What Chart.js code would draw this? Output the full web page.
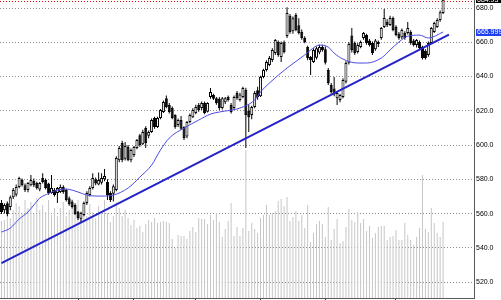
<!DOCTYPE html>
<html>
<head>
<meta charset="utf-8">
<script src="https://cdn.jsdelivr.net/npm/chart.js@4/dist/chart.umd.min.js"></script>
<style>
html,body{margin:0;padding:0;background:#fff;}
canvas{display:block;}
</style>
</head>
<body>
<canvas id="c" width="501" height="300"></canvas>
<script>
// ---- data (daily bars) ----
const barCount = 161; // 151 bars + empty shift area on the right
const categories = Array.from({length: barCount}, (_, i) => 'D' + (i + 1));

const opens = [566.1,562.0,566.0,563.8,569.6,571.0,575.5,579.6,576.6,573.7,576.6,579.0,577.8,574.0,580.7,579.6,577.5,572.0,573.7,572.0,
572.6,575.5,573.7,569.0,567.0,565.0,561.0,557.0,559.1,566.1,570.8,574.9,580.0,577.0,578.0,580.0,578.4,572.0,571.5,573.7,
591.2,601.2,592.0,598.8,591.2,594.2,598.3,605.8,600.5,609.9,605.5,607.6,615.8,610.5,615.8,619.3,627.4,623.4,621.6,617.5,
611.7,614.6,610.5,605.0,613.4,616.3,618.7,623.4,621.6,624.5,619.5,628.0,629.2,627.4,627.0,621.6,625.0,628.0,623.4,621.6,
630.4,626.3,628.0,632.1,620.0,617.5,622.2,632.0,628.5,639.7,643.8,646.7,649.6,653.7,660.2,651.4,660.0,663.7,675.5,666.5,
675.9,670.0,666.0,662.5,657.2,651.4,648.5,651.0,654.0,657.2,656.0,643.8,635.0,633.0,627.4,626.3,628.0,637.0,648.0,664.0,
659.6,654.3,657.2,662.5,664.2,661.0,659.6,656.0,660.2,662.5,669.0,672.0,670.1,674.2,669.0,665.0,663.0,665.4,665.4,666.0,
661.0,658.4,660.2,657.2,655.0,652.6,659.6,666.0,669.0,673.0,677.1];
const highs = [567.9,566.0,567.0,570.5,575.0,577.0,581.5,580.5,577.5,578.5,582.5,580.5,578.6,578.5,583.6,580.5,578.0,582.5,574.9,575.5,
577.0,576.6,574.5,570.0,568.0,566.0,561.5,561.0,567.0,573.0,576.0,583.6,581.0,584.0,583.6,586.0,580.0,573.0,577.0,593.5,
599.5,602.5,601.8,600.0,598.0,599.5,603.5,606.5,609.0,611.0,608.5,615.5,616.5,616.5,621.0,626.0,629.0,624.5,622.5,618.0,
615.5,617.0,611.0,614.0,618.5,621.5,623.5,624.5,625.5,625.5,625.0,633.3,630.0,628.0,628.0,628.0,628.0,629.0,624.5,629.0,
631.5,630.5,634.0,633.5,623.4,623.0,631.5,634.0,640.5,644.5,649.5,652.0,656.5,662.0,661.0,660.5,661.0,680.5,676.5,675.0,
677.1,674.0,667.5,663.5,658.0,652.0,656.5,657.5,658.5,658.5,657.5,645.0,636.2,639.7,631.5,630.0,639.0,649.0,660.0,668.3,
660.5,659.5,661.0,666.0,665.0,662.0,660.5,662.0,661.0,669.0,679.4,673.5,675.5,675.0,670.0,666.0,668.0,666.5,671.8,667.0,
662.0,662.0,661.0,658.0,656.0,660.5,669.0,672.0,674.0,678.5,686.0];
const lows = [559.7,560.0,558.5,562.0,568.5,570.0,574.8,575.8,572.6,572.5,576.0,575.5,574.0,573.0,577.5,574.0,571.0,571.5,570.0,566.1,
572.0,571.5,567.0,564.5,563.0,559.0,556.2,555.0,558.5,565.0,570.0,574.0,576.5,576.5,577.0,578.8,567.9,566.7,567.0,573.0,
590.0,590.0,591.0,590.5,590.0,593.0,597.5,599.0,600.0,598.3,604.0,607.0,609.5,610.0,615.0,618.7,621.5,618.5,615.0,609.5,
610.5,608.8,603.0,604.0,612.8,615.8,618.0,619.5,620.5,618.0,619.0,627.0,626.3,623.5,620.5,620.8,624.0,625.5,618.5,620.8,
626.5,625.5,627.4,598.3,607.6,615.0,621.5,626.5,628.0,639.0,643.0,646.0,648.5,652.6,651.5,648.5,653.5,662.5,665.0,665.0,
666.5,664.5,661.5,659.5,649.5,640.9,647.9,650.0,653.0,654.5,647.0,635.0,630.0,628.5,623.4,625.0,627.4,636.0,647.0,654.0,
652.6,653.5,656.5,661.5,658.5,657.5,652.6,655.0,657.2,661.5,668.3,669.0,669.5,666.5,663.5,661.5,662.0,661.5,664.5,658.5,
657.5,657.0,655.5,650.0,650.0,651.5,659.0,665.4,668.3,672.0,676.5];
const closes = [560.9,565.0,559.8,569.6,573.7,575.5,580.7,576.6,573.7,577.8,579.6,576.5,574.9,577.8,578.4,574.9,572.0,574.9,570.8,574.9,
575.5,572.6,567.9,565.5,563.8,559.7,557.4,560.3,566.1,572.0,574.9,580.7,577.5,579.6,580.7,582.0,570.8,567.9,576.0,592.4,
598.3,591.2,599.5,591.2,597.1,598.8,602.9,600.0,607.6,601.2,607.6,614.6,610.5,615.8,620.4,625.1,622.2,619.3,615.8,610.5,
614.6,609.5,604.1,613.4,617.5,620.4,622.2,620.4,624.5,618.7,624.5,631.0,627.0,624.5,621.6,627.4,627.4,626.3,619.3,628.0,
627.4,629.5,633.3,617.5,616.3,622.2,630.4,628.0,639.7,643.8,648.5,650.8,655.5,661.3,652.6,659.6,654.3,677.1,666.0,674.0,
667.2,665.4,662.5,660.2,650.8,649.6,655.5,656.6,657.2,655.5,648.0,636.2,631.0,629.5,630.4,629.2,638.0,647.9,659.0,655.5,
653.7,658.4,660.2,665.4,659.6,658.4,653.7,661.0,659.0,668.3,674.2,670.0,674.2,667.2,664.2,662.5,667.2,662.5,668.3,659.6,
658.4,661.3,656.6,650.8,650.8,659.6,668.3,671.2,673.0,677.5,684.8];
const volumes = [3850,3900,4200,4000,4400,4750,4600,4250,4900,4500,4800,4200,5000,4400,4650,4300,4900,4150,4500,4100,
4500,4800,4100,4400,4500,4100,4900,4300,4550,4100,4700,4300,4000,4600,4200,4900,4250,3800,4100,4800,
4500,4100,4400,4000,3650,3900,3500,3600,3300,3700,3900,3800,4000,3750,3800,3850,3800,3750,2950,2500,
3150,3100,3100,2950,3350,3550,3300,4000,3950,3950,3700,4150,3900,4250,3800,3050,3450,3850,4750,3100,
3550,3100,3500,7400,3350,3750,3450,3250,4000,4150,4650,4150,4250,4350,4850,4950,4600,5050,3850,4050,
4350,3850,4150,3500,4650,2800,3250,3700,3850,3700,3050,4550,2900,3450,3950,2750,2850,3550,4450,3900,
3800,4300,3750,3950,3350,3600,3000,3250,3550,3600,3600,2900,3050,3100,3400,2900,2900,3750,3150,2900,
2650,3050,3500,6150,3450,3300,4500,3750,3250,3050,3800];
// moving average, read at sample bars
const maBars = [0,3,6,9,11,13,16,19,22,26,29,34,38,43,47,51,54,57,62,67,71,74,81,86,88,91,97,103,105,108,111,113,116,121,124,129,132,135,138,142,145,150];
const maValues = [549.2,551.5,556.8,560.9,565.0,569.0,571.7,573.7,574.3,572.6,570.8,570.2,570.8,574.9,581.3,588.3,597.1,604.1,609.9,614.6,618.1,619.3,621.6,626.3,631.0,636.2,645.0,652.6,655.5,658.4,657.2,653.7,650.2,647.9,647.9,650.8,655.5,660.2,663.6,664.2,662.5,666.0];
// trend line end points
const trendBars = [0, 152];
const trendValues = [531.0, 664.5];
// price-axis labels / levels
const maLabel = '665.999', maLabelValue = 665.999;
const bidLabel = '684.93', bidValue = 684.93;
const askLevel = 684.2;
const monthTickBars = [26, 45, 66, 88, 110, 134];
const yMin = 510.7, yMax = 684.7, yStep = 20;

// ---- build datasets ----
const wickData = lows.map((l, i) => [l, highs[i]]);
const bodyData = opens.map((o, i) => [o, closes[i]]);
const bodyFill = opens.map((o, i) => closes[i] >= o ? '#ffffff' : '#000000');
const maData = maBars.map((b, k) => ({x: categories[b], y: maValues[k]}));
const trendData = trendBars.map((b, k) => ({x: categories[b], y: trendValues[k]}));

const FONT = 'Liberation Sans, Arial, sans-serif';

const labelPlugin = {
  id: 'priceLabels',
  afterDatasetsDraw(chart) {
    const {ctx, chartArea, scales} = chart;
    const y = scales.y;
    ctx.save();
    // ask level dotted red line
    const ya = Math.round(y.getPixelForValue(askLevel)) + 0.5;
    ctx.strokeStyle = '#e00000';
    ctx.lineWidth = 1;
    ctx.setLineDash([1, 2]);
    ctx.beginPath();
    ctx.moveTo(chartArea.left, ya);
    ctx.lineTo(chartArea.right, ya);
    ctx.stroke();
    ctx.restore();
  },
  afterDraw(chart) {
    const {ctx, chartArea, scales, width} = chart;
    const y = scales.y;
    ctx.save();
    ctx.font = '7px ' + FONT;
    ctx.textBaseline = 'middle';
    ctx.textAlign = 'left';
    const boxes = [
      {v: maLabelValue, t: maLabel, bg: '#1f3ff0'},
      {v: bidValue, t: bidLabel, bg: '#000000'}
    ];
    boxes.forEach(b => {
      const py = y.getPixelForValue(b.v);
      ctx.fillStyle = b.bg;
      ctx.fillRect(chartArea.right + 2, Math.round(py - 3.5), width - chartArea.right - 2, 7);
      ctx.fillStyle = '#ffffff';
      ctx.fillText(b.t, chartArea.right + 3, py + 0.5);
    });
    ctx.restore();
  }
};

new Chart(document.getElementById('c'), {
  type: 'bar',
  data: {
    labels: categories,
    datasets: [
      {
        type: 'bar', label: 'Volume', data: volumes, yAxisID: 'yv',
        backgroundColor: '#c6c6c6', barThickness: 1, grouped: false,
        inflateAmount: 0, order: 10
      },
      {
        type: 'bar', label: 'Range', data: wickData, yAxisID: 'y',
        backgroundColor: '#000000', barThickness: 1, grouped: false,
        inflateAmount: 0, order: 5
      },
      {
        type: 'bar', label: 'Body', data: bodyData, yAxisID: 'y',
        backgroundColor: bodyFill, borderColor: '#000000', borderWidth: 1,
        borderSkipped: false, barThickness: 3, grouped: false, minBarLength: 1,
        inflateAmount: 0, order: 4
      },
      {
        type: 'line', label: 'MA', data: maData, yAxisID: 'y',
        borderColor: '#4a4ae6', borderWidth: 1, pointRadius: 0,
        cubicInterpolationMode: 'monotone', spanGaps: true, order: 2
      },
      {
        type: 'line', label: 'Trend', data: trendData, yAxisID: 'y',
        borderColor: '#2323c8', borderWidth: 2, pointRadius: 0, order: 1
      }
    ]
  },
  options: {
    responsive: false,
    animation: false,
    devicePixelRatio: 1,
    layout: {padding: 0},
    plugins: {legend: {display: false}, tooltip: {enabled: false}},
    scales: {
      x: {
        type: 'category', offset: true,
        afterBuildTicks: s => { s.ticks = monthTickBars.map(b => ({value: b})); },
        ticks: {display: false},
        grid: {display: true, drawOnChartArea: false, drawTicks: true, tickLength: 3, color: '#404040', offset: false},
        border: {display: true, color: '#5a5a5a', width: 1},
        afterFit: s => { s.height = 2; s.paddingLeft = 0; s.paddingRight = 0; }
      },
      y: {
        position: 'right', min: yMin, max: yMax,
        ticks: {
          stepSize: yStep, includeBounds: false, color: '#000000', padding: 2,
          font: {family: FONT, size: 7},
          callback: v => Number(v).toFixed(1)
        },
        grid: {color: '#8c8c8c', lineWidth: 1, drawTicks: false},
        border: {display: true, color: '#5a5a5a', width: 1, dash: [1, 2]},
        afterFit: s => { s.width = 27; s.paddingTop = 0; s.paddingBottom = 0; }
      },
      yv: {
        display: false, min: 0, max: 14900
      }
    }
  },
  plugins: [labelPlugin]
});
</script>
</body>
</html>
